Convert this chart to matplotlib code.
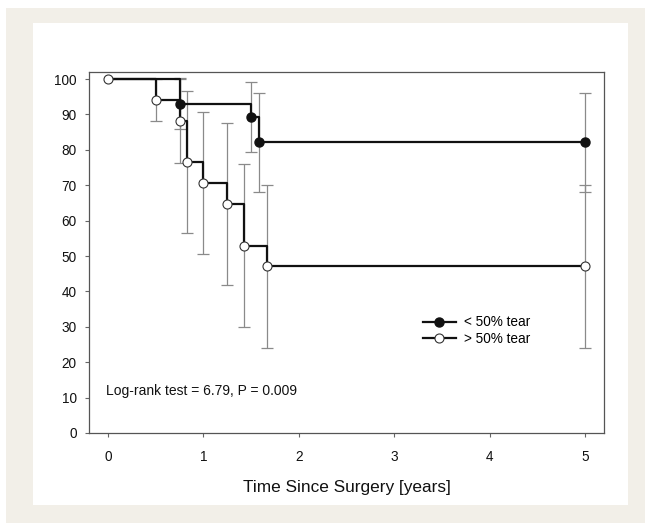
import matplotlib.pyplot as plt
from matplotlib.patches import Rectangle
from matplotlib.lines import Line2D

plt.rcParams['font.family'] = ['Liberation Sans', 'DejaVu Sans']

# < 50% tear (filled)
small_t = [0, 0.75, 1.5, 1.58, 5]
small_s = [100, 92.9, 89.3, 82.1, 82.1]
small_err = [0, 7, 10, 14, 14]

# > 50% tear (open)
large_t = [0, 0.5, 0.75, 0.83, 1.0, 1.25, 1.42, 1.67, 5]
large_s = [100, 94.1, 88.2, 76.5, 70.6, 64.7, 52.9, 47.1, 47.1]
large_err = [0, 6, 12, 20, 20, 23, 23, 23, 23]

xticks = [0, 1, 2, 3, 4, 5]
yticks = [0, 10, 20, 30, 40, 50, 60, 70, 80, 90, 100]

W, H = 645, 523
fig = plt.figure(figsize=(W / 100, H / 100), dpi=100)
fig.patches.append(Rectangle((6 / W, 0), 1 - 6 / W, 1 - 8 / H, transform=fig.transFigure,
                             facecolor='#f2efe8', edgecolor='none', zorder=-2))
fig.patches.append(Rectangle((33 / W, 18 / H), 595 / W, 482 / H, transform=fig.transFigure,
                             facecolor='white', edgecolor='none', zorder=-1))

ax = fig.add_axes([89 / W, 90 / H, 515 / W, 361 / H])
ax.set_facecolor('none')

# error bars (skip the first point at time zero)
ax.errorbar(small_t[1:], small_s[1:], yerr=small_err[1:], fmt='none', ecolor='#8a8a8a',
            elinewidth=0.9, capsize=4, capthick=0.9, zorder=1)
ax.errorbar(large_t[1:], large_s[1:], yerr=large_err[1:], fmt='none', ecolor='#8a8a8a',
            elinewidth=0.9, capsize=4, capthick=0.9, zorder=1)

# survival steps
ax.step(small_t, small_s, where='post', color='#111111', lw=1.6, zorder=2)
ax.step(large_t, large_s, where='post', color='#111111', lw=1.6, zorder=2)

ax.plot(small_t[1:], small_s[1:], 'o', ms=6.5, mfc='#111111', mec='#111111', zorder=3)
ax.plot(large_t, large_s, 'o', ms=6.5, mfc='white', mec='#333333', mew=0.8, zorder=4)

ax.set_xlim(-0.2, 5.2)
ax.set_ylim(0, 102)
ax.set_xticks(xticks)
ax.set_yticks(yticks)
for s in ax.spines.values():
    s.set_color('#555555')
    s.set_linewidth(0.9)
ax.tick_params(direction='out', length=3, width=0.8, color='#666666',
               labelsize=9.8, labelcolor='#111111', pad=6)
ax.tick_params(axis='x', pad=9)

ax.set_xlabel('Time Since Surgery [years]', fontsize=12.4, color='#111111', labelpad=12)

ax.text(-0.02, 12, 'Log-rank test = 6.79, P = 0.009', fontsize=10, color='#111111',
        va='center', ha='left')

handles = [
    Line2D([0], [0], color='#111111', lw=1.6, marker='o', ms=6.5, mfc='#111111', mec='#111111'),
    Line2D([0], [0], color='#111111', lw=1.6, marker='o', ms=6.5, mfc='white', mec='#333333', mew=0.8),
]
ax.legend(handles, ['< 50% tear', '> 50% tear'], loc='upper left',
          bbox_to_anchor=(0.625, 0.36), frameon=False, fontsize=9.8,
          handlelength=2.4, handletextpad=0.6, labelspacing=0.2)

fig.savefig('out.png', dpi=100)
